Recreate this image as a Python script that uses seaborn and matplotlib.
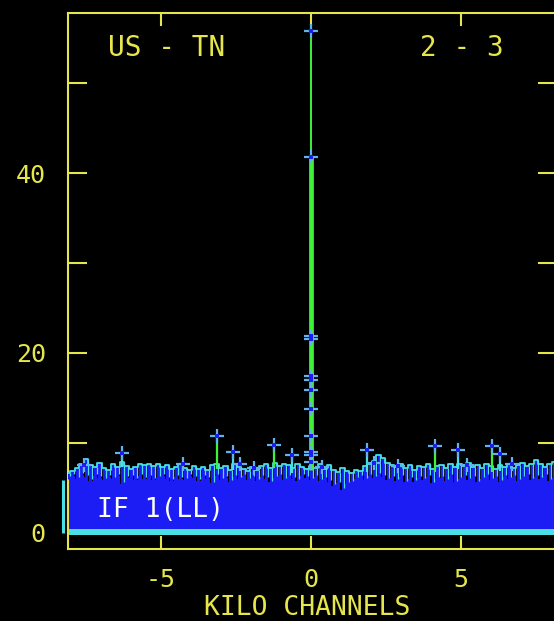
import numpy as np
import pandas as pd
import matplotlib
matplotlib.use("Agg")
import matplotlib.pyplot as plt
import seaborn as sns

# ---- data -------------------------------------------------------------
# channel grid (kilo channels) for the noise envelope
channels = np.round(np.arange(-8.25, 8.2501, 0.15), 3)

# upper edge of the noise band (amplitude)
noise_top = [
    6.3, 6.6, 6.9, 7.2, 7.6, 8.2, 7.5, 7.3, 7.8, 7.2,
    7.0, 7.6, 7.3, 7.9, 7.4, 7.1, 7.3, 7.6, 7.5, 7.6,
    7.4, 7.6, 7.3, 7.5, 7.1, 7.3, 7.6, 7.2, 7.0, 7.4,
    7.1, 7.3, 7.0, 7.5, 7.7, 7.2, 7.4, 7.0, 7.6, 7.3,
    7.1, 6.9, 7.3, 7.0, 7.4, 7.6, 7.2, 7.8, 7.4, 7.7,
    7.5, 7.2, 7.6, 7.3, 7.1, 7.4, 7.2, 7.6, 7.1, 7.5,
    7.0, 6.8, 7.2, 6.9, 6.6, 7.0, 6.9, 7.4, 7.6, 8.0,
    8.6, 8.3, 7.8, 7.5, 7.3, 7.6, 7.2, 7.5, 7.0, 7.4,
    7.3, 7.6, 7.1, 7.4, 7.5, 7.2, 7.6, 7.3, 7.7, 7.4,
    7.8, 7.3, 7.5, 7.2, 7.6, 7.4, 7.1, 7.5, 7.3, 7.6,
    7.2, 7.5, 7.8, 7.4, 7.6, 8.1, 7.7, 7.3, 7.6, 7.9, 7.5,
]

# top of the solid part of the noise band
noise_floor = [
    5.9, 6.1, 6.3, 6.0, 6.4, 6.2, 5.8, 6.3, 6.1, 5.9,
    6.2, 6.0, 6.3, 5.4, 6.1, 6.2, 5.9, 6.3, 6.0, 6.2,
    5.9, 6.1, 6.3, 6.0, 5.8, 6.2, 6.0, 5.9, 6.3, 6.1,
    5.8, 6.2, 6.0, 5.5, 6.3, 5.9, 6.1, 5.7, 6.2, 6.0,
    6.3, 5.9, 6.1, 5.8, 6.2, 6.0, 5.6, 6.1, 6.3, 5.9,
    6.2, 6.0, 5.8, 6.3, 6.1, 5.9, 6.2, 5.8, 6.0, 5.7,
    5.2, 5.5, 4.8, 5.4, 5.6, 6.0, 6.2, 5.9, 6.3, 6.1,
    6.4, 6.2, 5.9, 6.1, 5.8, 6.2, 5.6, 6.0, 5.7, 6.1,
    5.9, 6.2, 5.5, 6.0, 6.1, 5.8, 6.3, 5.6, 6.0, 6.2,
    5.9, 6.1, 5.6, 6.0, 6.3, 5.9, 6.1, 5.7, 6.2, 6.0,
    6.2, 5.8, 6.1, 6.3, 5.9, 6.2, 6.0, 6.3, 5.8, 6.1, 6.2,
]

baseline_level = 0.45

# isolated channels standing above the noise
spike_ch = [-6.30, -3.13, -2.60, -1.23, -0.63, 1.87, 4.13, 4.90, 6.03, 6.30]
spike_amp = [8.9, 10.8, 9.0, 9.8, 8.6, 9.2, 9.6, 9.2, 9.6, 8.8]
spike_green = [False, True, False, True, False, False, True, False, True, False]

# points sitting at the noise edge
edge_ch = [-7.55, -4.27, -2.37, -1.90, 0.35, 2.10, 2.90, 5.20, 6.70]
edge_amp = [7.5, 7.6, 7.6, 7.2, 7.3, 7.8, 7.4, 7.5, 7.6]

# the line at channel zero
line_ch = 0.0
line_amp = [55.8, 41.8, 21.9, 21.5, 17.4, 17.0, 15.9, 13.8, 10.8, 9.0, 8.6, 7.9]

x_ticks = [-5, 0, 5]
y_ticks = [0, 10, 20, 30, 40, 50]
y_labelled = [0, 20, 40]

# ---- style ------------------------------------------------------------
YELLOW = "#e6e64c"
BLUE = "#1c1cf5"
CYAN = "#48e0e4"
GREEN = "#3ef23a"
CROSS = "#63b2ee"

sns.set_theme(style="dark", rc={
    "figure.facecolor": "black",
    "axes.facecolor": "black",
    "axes.edgecolor": YELLOW,
    "axes.linewidth": 1.5,
    "axes.grid": False,
    "xtick.color": YELLOW,
    "ytick.color": YELLOW,
    "text.color": YELLOW,
    "axes.labelcolor": YELLOW,
})
plt.rcParams["font.family"] = ["DejaVu Sans Mono", "DejaVu Sans"]

fig = plt.figure(figsize=(5.54, 6.21), dpi=100)
ax = fig.add_axes([68 / 554, 72 / 621, 489 / 554, 536 / 621])

df = pd.DataFrame({"ch": channels, "top": noise_top, "floor": noise_floor})

# solid body of the noise band
ax.fill_between(df["ch"], baseline_level, df["floor"], step="mid",
                color=BLUE, lw=0, zorder=2)
# baseline strip
ax.fill_between(df["ch"], -0.2, baseline_level, color=CYAN, lw=0, zorder=2)
# ragged upper part: one bar per channel
ax.vlines(df["ch"], df["floor"] - 0.1, df["top"], colors=BLUE, lw=2.2, zorder=3)
ax.vlines(df["ch"] + 0.06, df["floor"] + 0.2, df["top"], colors=CYAN,
          lw=0.9, zorder=4)
sns.lineplot(data=df, x="ch", y="top", ax=ax, color=CYAN, lw=1.3,
             drawstyle="steps-mid", zorder=4, estimator=None, sort=False)
# left edge of the band, just outside the frame
ax.vlines([channels[0] - 0.02], 0.0, noise_floor[0], colors=CYAN, lw=2.2,
          clip_on=False, zorder=4)

# stems of the isolated channels
for c, a, g in zip(spike_ch, spike_amp, spike_green):
    ax.vlines(c, noise_top[int(np.argmin(np.abs(channels - c)))] - 0.6, a,
              colors=GREEN if g else CYAN, lw=1.6, zorder=5)

# the strong line at channel zero
ax.vlines(line_ch, 7.0, line_amp[1], colors=GREEN, lw=3.4, zorder=5)
ax.vlines(line_ch, line_amp[1], line_amp[0], colors=GREEN, lw=1.4, zorder=5)

pts = pd.DataFrame({
    "ch": list(spike_ch) + list(edge_ch) + [line_ch] * len(line_amp),
    "amp": list(spike_amp) + list(edge_amp) + list(line_amp),
})
sns.scatterplot(data=pts, x="ch", y="amp", ax=ax, marker="+", s=100,
                color=CROSS, linewidth=1.6, zorder=6, legend=False)
sns.scatterplot(data=pts, x="ch", y="amp", ax=ax, marker="s", s=5,
                color=BLUE, linewidth=0, zorder=7, legend=False)

# ---- axes -------------------------------------------------------------
ax.set_xlim(-8.1, 8.2)
ax.set_ylim(-1.8, 57.8)
ax.set_xticks(x_ticks)
ax.set_xticklabels([str(v) for v in x_ticks])
ax.set_yticks(y_ticks)
ax.set_yticklabels([str(v) if v in y_labelled else "" for v in y_ticks])
ax.tick_params(axis="x", direction="in", length=9.5, width=1.5, top=True,
               bottom=True, labelsize=18, pad=14)
ax.tick_params(axis="y", direction="in", length=13.5, width=1.5, left=True,
               right=True, labelsize=18, pad=16)
for s in ax.spines.values():
    s.set_color(YELLOW)
    s.set_linewidth(1.5)

ax.set_xlabel("KILO CHANNELS", fontsize=19)
ax.xaxis.label.set_va("center")
ax.xaxis.set_label_coords(0.49, -0.110)
ax.set_ylabel("")

ax.text(0.082, 0.935, "US - TN", transform=ax.transAxes, fontsize=20,
        color=YELLOW, va="center", ha="left")
ax.text(0.72, 0.935, "2 - 3", transform=ax.transAxes, fontsize=20,
        color=YELLOW, va="center", ha="left")
ax.text(0.059, 0.073, "IF 1(LL)", transform=ax.transAxes, fontsize=19,
        color="white", va="center", ha="left", zorder=8)

fig.savefig("out.png", dpi=100, facecolor="black")
